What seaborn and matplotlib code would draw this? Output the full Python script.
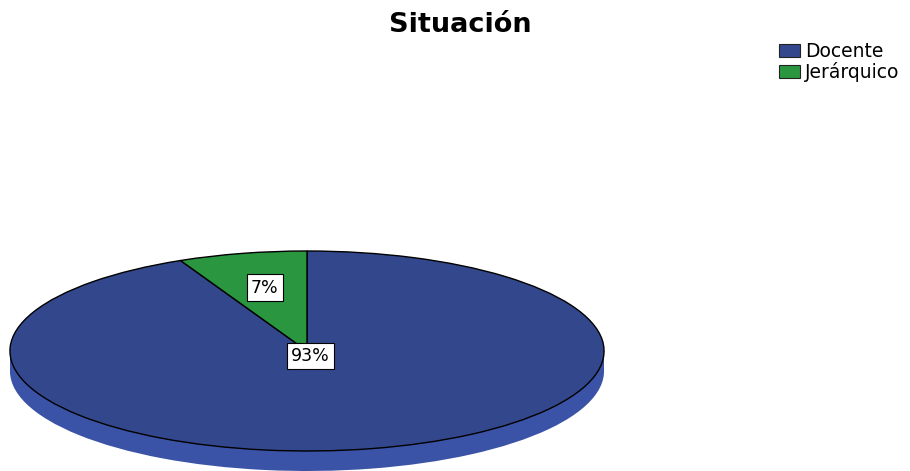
import numpy as np
import matplotlib
matplotlib.use("Agg")
import matplotlib.pyplot as plt
import matplotlib.patches as mpatches
import seaborn as sns

# data
categories = ["Docente", "Jerárquico"]
values = [93, 7]
title = "Situación"

top_colors = ["#33488c", "#2a963f"]
side_colors = ["#3a53a6", "#2fa048"]

sns.set_theme(style="white")
plt.rcParams["font.family"] = ["DejaVu Sans"]
plt.rcParams["text.color"] = "black"

fig = plt.figure(figsize=(9.1, 4.71), dpi=100)
# pie axes: ellipse 594 px wide, 200 px tall, centred at (307, 352)
ax = fig.add_axes([4 / 910, 0, 606 / 910, 240 / 471])
depth = 0.2

# side wall of the 3D disc
ax.pie(values, colors=side_colors, startangle=90, counterclock=False,
       center=(0, -depth), wedgeprops=dict(linewidth=0))
ax.add_patch(mpatches.Rectangle((-1, -depth), 2, depth, color=side_colors[0], lw=0))

# top face
wedges, texts, autotexts = ax.pie(
    values, colors=top_colors, startangle=90, counterclock=False,
    autopct="%.0f%%", pctdistance=0.65,
    wedgeprops=dict(edgecolor="black", linewidth=1),
    textprops=dict(fontsize=12.5, color="black"))

dists = [0.05, 0.65]
for w, t, d in zip(wedges, autotexts, dists):
    th = np.deg2rad((w.theta1 + w.theta2) / 2)
    t.set_position((d * np.cos(th), d * np.sin(th)))
    t.set_bbox(dict(boxstyle="square,pad=0.25", fc="white", ec="black", lw=0.8))

ax.set_aspect("auto")
ax.set_xlim(-1.02, 1.02)
ax.set_ylim(-1.2, 1.2)
ax.axis("off")

fig.text(460 / 910, 1 - 25 / 471, title, ha="center", va="center",
         fontsize=19.5, fontweight="bold", color="black")

handles = [mpatches.Patch(fc=c, ec="#222222", lw=0.8) for c in top_colors]
leg = fig.legend(handles, categories, loc="upper left",
                 bbox_to_anchor=(779 / 910, 1 - 42 / 471), frameon=False,
                 fontsize=13.5, handlelength=1.1, handleheight=0.65,
                 handletextpad=0.3, labelspacing=0.05, borderpad=0, borderaxespad=0)
for t in leg.get_texts():
    t.set_color("black")

fig.savefig("out.png", dpi=100)
